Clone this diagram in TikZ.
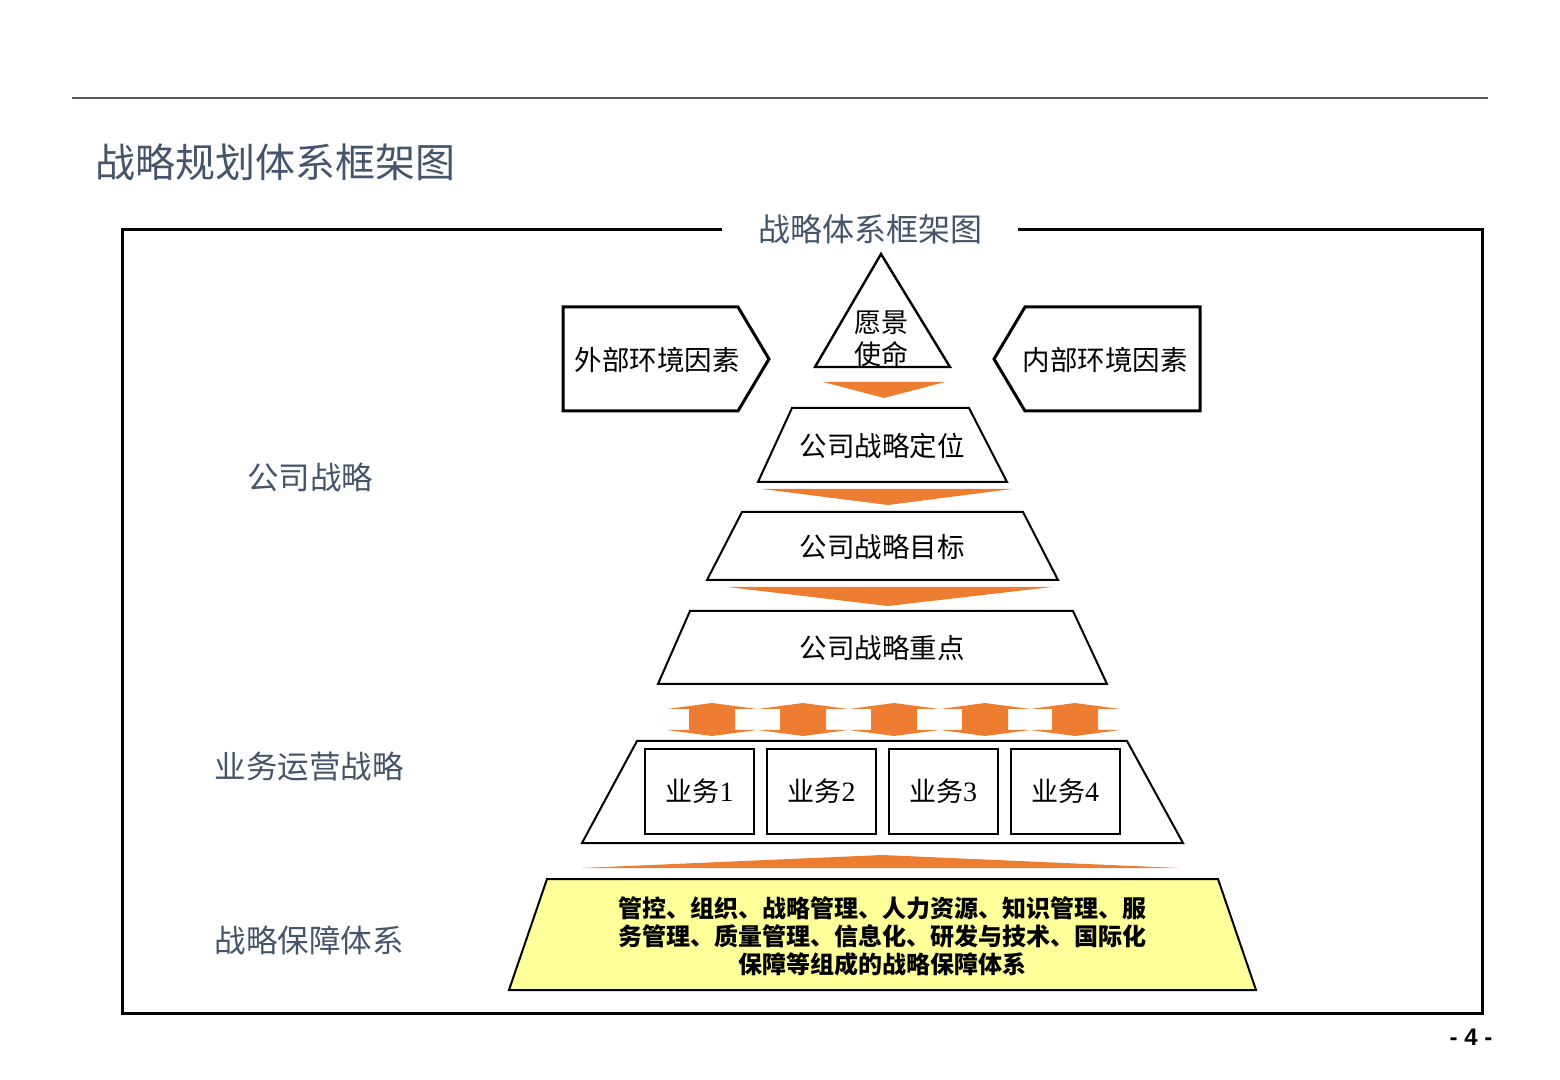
\documentclass[tikz,border=0pt]{standalone}
\usepackage{fontspec}
\setmainfont{Liberation Serif}
\newfontfamily\cjk{Noto Sans CJK SC}
\newfontfamily\pagenumfont{Liberation Sans}
\definecolor{slate}{HTML}{44546A}
\definecolor{orng}{HTML}{ED7D31}
\definecolor{lightyellow}{HTML}{FFFF99}
\begin{document}
\begin{tikzpicture}[x=0.5pt,y=-0.5pt,
  lbl/.style={font=\cjk\fontsize{15.75}{18}\selectfont, text=slate, inner sep=0pt},
  boxtxt/.style={font=\cjk\fontsize{13.75}{16}\selectfont, inner sep=0pt},
  shapeln/.style={draw=black, line width=1pt, fill=white, line join=miter},
  orarrow/.style={fill=orng, draw=none},
  bizbox/.style={draw=black, line width=1pt, minimum width=54.5pt, minimum height=42.5pt, inner sep=0pt, font=\fontsize{14}{16}\selectfont}]
\useasboundingbox (0,0) rectangle (1560,1080);
% top rule
\draw[line width=0.6pt, black!65] (72,98) -- (1488,98);
% page title
\node[anchor=west, font=\cjk\fontsize{20}{24}\selectfont, text=slate, inner sep=0pt] (title) at (95,162) {战略规划体系框架图};
% frame
\draw[line width=1.5pt] (722,230) -- (122,230) -- (122,1013) -- (1482,1013) -- (1482,230) -- (1018,230);
\node[font=\cjk\fontsize{16}{19}\selectfont, text=slate, inner sep=0pt] (frametitle) at (870,229) {战略体系框架图};
% left labels
\node[lbl] (l1) at (310,477) {公司战略};
\node[lbl] (l2) at (309,767) {业务运营战略};
\node[lbl] (l3) at (309,940) {战略保障体系};
% triangle
\draw[shapeln, line width=1.2pt] (881,254) -- (950,367) -- (815,367) -- cycle;
\node[font=\cjk\fontsize{13.5}{16}\selectfont, inner sep=0pt, align=center] (vision) at (881,339) {愿景\\使命};
% pentagons
\draw[shapeln, line width=1.5pt] (563,307) -- (738,307) -- (769,359) -- (738,411) -- (563,411) -- cycle;
\node[boxtxt] (ext) at (657,360) {外部环境因素};
\draw[shapeln, line width=1.5pt] (1200,307) -- (1025,307) -- (994,359) -- (1025,411) -- (1200,411) -- cycle;
\node[boxtxt] (int) at (1105,360) {内部环境因素};
% arrow 1
\fill[orarrow] (823,382) -- (945,382) -- (884,398) -- cycle;
% trapezoid 1
\draw[shapeln] (792,408) -- (969,408) -- (1007,482) -- (758,482) -- cycle;
\node[boxtxt] (pos) at (882,446) {公司战略定位};
% arrow 2
\fill[orarrow] (762,489) -- (1012,489) -- (888,505) -- cycle;
% trapezoid 2
\draw[shapeln] (742,512) -- (1023,512) -- (1058,580) -- (707,580) -- cycle;
\node[boxtxt] (goal) at (882,547) {公司战略目标};
% arrow 3
\fill[orarrow] (727,587) -- (1052,587) -- (888,606) -- cycle;
% trapezoid 3
\draw[shapeln] (690,611) -- (1073,611) -- (1107,684) -- (658,684) -- cycle;
\node[boxtxt] (focus) at (882,648) {公司战略重点};
% double arrows
\foreach \c in {712,803,894,985,1075}{
  \fill[orarrow] (\c,703) -- (\c+45,709) -- (\c+23,709) -- (\c+23,730) -- (\c+45,730) -- (\c,736)
    -- (\c-45,730) -- (\c-23,730) -- (\c-23,709) -- (\c-45,709) -- cycle;
}
% trapezoid 4
\draw[shapeln] (637,741) -- (1127,741) -- (1183,843) -- (582,843) -- cycle;
\node[bizbox] (b1) at (699.5,791.5) {{\cjk\fontsize{13.5}{16}\selectfont 业务}1};
\node[bizbox] (b2) at (821.5,791.5) {{\cjk\fontsize{13.5}{16}\selectfont 业务}2};
\node[bizbox] (b3) at (943,791.5) {{\cjk\fontsize{13.5}{16}\selectfont 业务}3};
\node[bizbox] (b4) at (1065,791.5) {{\cjk\fontsize{13.5}{16}\selectfont 业务}4};
% up arrow
\fill[orarrow] (582,868) -- (882,855) -- (1178,868) -- cycle;
% yellow trapezoid
\draw[draw=black, line width=1pt, fill=lightyellow] (547,879) -- (1218,879) -- (1256,990) -- (509,990) -- cycle;
\node[font=\cjk\bfseries\fontsize{12}{14}\selectfont, inner sep=0pt, align=center] (support) at (882,936)
  {管控、组织、战略管理、人力资源、知识管理、服\\务管理、质量管理、信息化、研发与技术、国际化\\保障等组成的战略保障体系};
% page number
\node[font=\pagenumfont\bfseries\fontsize{12}{14}\selectfont, inner sep=0pt] (pnum) at (1471,1037) {- 4 -};
\end{tikzpicture}
\end{document}
